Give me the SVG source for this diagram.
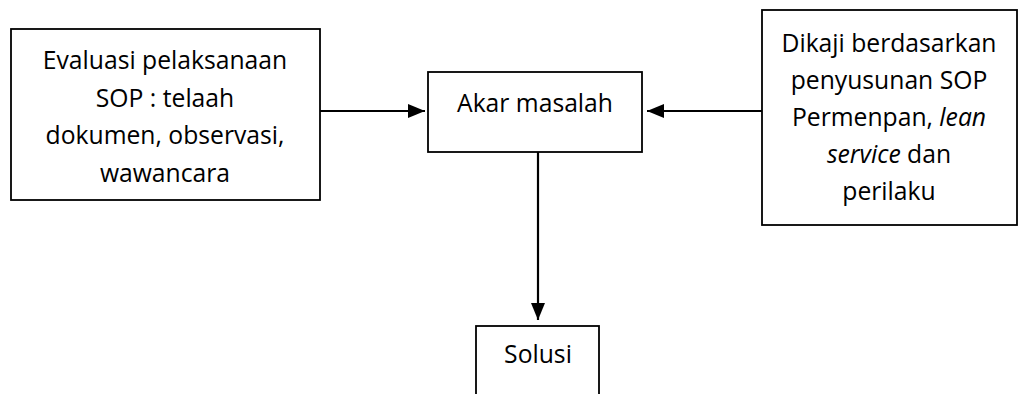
<svg xmlns="http://www.w3.org/2000/svg" width="1019" height="394" viewBox="0 0 1019 394">
<style>
.box{fill:#fff;stroke:#000;stroke-width:1.8}
.t{font-family:"Open Sans","Noto Sans",sans-serif;font-size:24.7px;fill:#000;text-anchor:middle}
.c{stroke:#000;stroke-width:2.2;fill:none}
</style>
<defs>
<marker id="ah" markerWidth="18" markerHeight="16" refX="17" refY="8" orient="auto" markerUnits="userSpaceOnUse">
<path d="M0,1 L17,8 L0,15 Z" fill="#000"/>
</marker>
</defs>
<rect width="1019" height="394" fill="#fff"/>
<g id="connectors">
<line class="c" x1="320" y1="111" x2="425" y2="111" marker-end="url(#ah)"/>
<line class="c" x1="762" y1="111" x2="647" y2="111" marker-end="url(#ah)"/>
<line class="c" x1="538" y1="152" x2="538" y2="320" marker-end="url(#ah)"/>
</g>
<g id="node-evaluasi">
<rect class="box" x="11" y="29" width="309" height="171"/>
<text class="t" x="165" y="69">Evaluasi pelaksanaan</text>
<text class="t" x="165" y="107">SOP : telaah</text>
<text class="t" x="165" y="144">dokumen, observasi,</text>
<text class="t" x="165" y="182">wawancara</text>
</g>
<g id="node-akar">
<rect class="box" x="428" y="72" width="214" height="80"/>
<text class="t" x="535" y="112">Akar masalah</text>
</g>
<g id="node-dikaji">
<rect class="box" x="762" y="10" width="255" height="215"/>
<text class="t" x="889" y="52">Dikaji berdasarkan</text>
<text class="t" x="889" y="89">penyusunan SOP</text>
<text class="t" x="889" y="126">Permenpan, <tspan font-style="italic">lean</tspan></text>
<text class="t" x="889" y="163"><tspan font-style="italic">service</tspan> dan</text>
<text class="t" x="889" y="200">perilaku</text>
</g>
<g id="node-solusi">
<rect class="box" x="476" y="326" width="123" height="80"/>
<text class="t" x="538" y="363">Solusi</text>
</g>
</svg>
